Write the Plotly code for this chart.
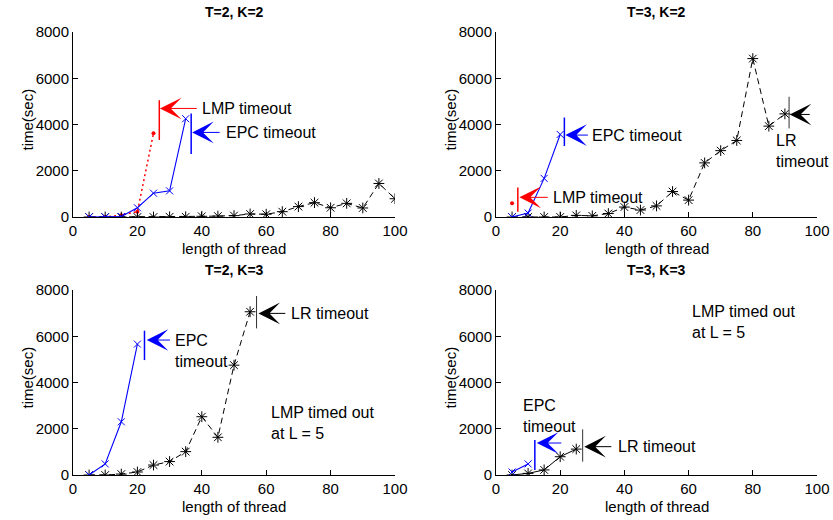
import plotly.graph_objects as go

# ---------------- data ----------------
L_all = [5, 10, 15, 20, 25, 30, 35, 40, 45, 50, 55, 60, 65, 70, 75, 80, 85, 90, 95, 100]

# T=2, K=2
t22_lr = [0, 0, 0, 0, 0, 10, 10, 30, 40, 60, 130, 120, 230, 450, 620, 400, 590, 390, 1450, 790]
t22_epc = [0, 0, 20, 400, 1030, 1130, 4250]
t22_lmp = [0, 0, 80, 230, 3620]

# T=3, K=2
t32_lr = [0, 0, 0, 0, 70, 50, 150, 430, 300, 480, 1100, 730, 2340, 2870, 3310, 6850, 3930, 4460]
t32_epc = [0, 170, 1670, 3570]
t32_lmp = [600]

# T=2, K=3
t23_lr = [0, 0, 40, 130, 430, 580, 1010, 2520, 1630, 4750, 7060]
t23_epc = [0, 480, 2300, 5660]

# T=3, K=3
t33_lr = [0, 70, 220, 790, 1120]
t33_epc = [130, 480]

titles = ["T=2, K=2", "T=3, K=2", "T=2, K=3", "T=3, K=3"]
x_ticks = [0, 20, 40, 60, 80, 100]
y_ticks = [0, 2000, 4000, 6000, 8000]

# ---------------- layout geometry ----------------
W, H = 833, 520
FONT = "Liberation Sans, Arial, sans-serif"
FS = 15
cols = [(73, 395), (496, 817)]
rows = [(32, 217), (290, 475)]

def px(x):
    return x / W

def py(y):
    return 1 - y / H

BLUE = "#0000ff"
RED = "#ff0000"
BLACK = "#000000"

fig = go.Figure()

panels = [
    ("", 0, 0),
    ("2", 1, 0),
    ("3", 0, 1),
    ("4", 1, 1),
]

def add_lr(sfx, y, dash):
    fig.add_trace(go.Scatter(
        x=L_all[:len(y)], y=y, mode="lines+markers",
        xaxis="x" + sfx, yaxis="y" + sfx,
        line=dict(color=BLACK, width=1, dash=dash),
        marker=dict(symbol="asterisk-open", size=9, color=BLACK, line=dict(color=BLACK, width=1)),
        showlegend=False, hoverinfo="x+y"))

def add_epc(sfx, y):
    fig.add_trace(go.Scatter(
        x=L_all[:len(y)], y=y, mode="lines+markers",
        xaxis="x" + sfx, yaxis="y" + sfx,
        line=dict(color=BLUE, width=1.1),
        marker=dict(symbol="x-thin-open", size=7, color=BLUE, line=dict(color=BLUE, width=1)),
        showlegend=False, hoverinfo="x+y"))

def add_lmp(sfx, y):
    fig.add_trace(go.Scatter(
        x=L_all[:len(y)], y=y, mode="lines+markers",
        xaxis="x" + sfx, yaxis="y" + sfx,
        line=dict(color=RED, width=1.5, dash="2px,3px"),
        marker=dict(symbol="circle", size=4, color=RED),
        showlegend=False, hoverinfo="x+y"))

dashed = "6px,4px"
add_lmp("", t22_lmp)
add_lr("", t22_lr, dashed)
add_epc("", t22_epc)

add_lmp("2", t32_lmp)
add_lr("2", t32_lr, dashed)
add_epc("2", t32_epc)

add_lr("3", t23_lr, dashed)
add_epc("3", t23_epc)

add_lr("4", t33_lr, "solid")
add_epc("4", t33_epc)

layout = dict(
    width=W, height=H,
    margin=dict(l=0, r=0, t=0, b=0),
    paper_bgcolor="white", plot_bgcolor="white",
    font=dict(family=FONT, size=FS, color="black"),
    showlegend=False,
)

annotations = []
shapes = []

for (sfx, c, r), title in zip(panels, titles):
    x0, x1 = cols[c]
    y0, y1 = rows[r]
    common = dict(showline=True, linecolor="black", linewidth=1, mirror=False,
                  ticks="inside", ticklen=5, tickcolor="black", showgrid=False,
                  zeroline=False, automargin=False,
                  tickfont=dict(family=FONT, size=FS, color="black"))
    layout["xaxis" + sfx] = dict(domain=[px(x0), px(x1)], range=[0, 100], tickvals=x_ticks,
                                 anchor="y" + sfx, **common)
    layout["yaxis" + sfx] = dict(domain=[py(y1), py(y0)], range=[0, 8000], tickvals=y_ticks,
                                 anchor="x" + sfx, **common)
    cx = (x0 + x1) / 2
    annotations.append(dict(text="<b>" + title + "</b>", x=px(cx), y=py(y0 - 20),
                            xref="paper", yref="paper", showarrow=False,
                            xanchor="center", yanchor="middle",
                            font=dict(family=FONT, size=14)))
    annotations.append(dict(text="length of thread", x=px(cx), y=py(y1 + 31),
                            xref="paper", yref="paper", showarrow=False,
                            xanchor="center", yanchor="middle",
                            font=dict(family=FONT, size=FS)))
    annotations.append(dict(text="time(sec)", x=px(x0 - 46), y=py((y0 + y1) / 2 - 5),
                            xref="paper", yref="paper", showarrow=False, textangle=-90,
                            xanchor="center", yanchor="middle",
                            font=dict(family=FONT, size=FS)))

# timeout markers: (axis suffix, color, bar x, bar y0, bar y1, arrow head x, arrow tail x, arrow y, bar width)
markers = [
    ("", RED, 26.8, 3330, 5050, 27.0, 38.9, 4694, 1.5),
    ("", BLUE, 36.7, 2720, 4480, 37.0, 46.0, 3658, 1.5),
    ("2", RED, 6.8, 230, 1280, 7.3, 16.6, 850, 1.5),
    ("2", BLUE, 21.3, 3070, 4300, 21.6, 29.1, 3542, 1.5),
    ("2", BLACK, 91.3, 3830, 5200, 91.5, 98.2, 4435, 1),
    ("3", BLUE, 22.2, 4970, 6240, 22.9, 30.6, 5836, 1.5),
    ("3", BLACK, 57.0, 6340, 7740, 57.6, 66.4, 6989, 1),
    ("4", BLUE, 12.1, 216, 1513, 12.7, 20.8, 1383, 1.5),
    ("4", BLACK, 27.0, 576, 1974, 27.5, 36.4, 1225, 1),
]
for sfx, col, bx, by0, by1, hx, tx, ay, bw in markers:
    shapes.append(dict(type="line", xref="x" + sfx, yref="y" + sfx, x0=bx, x1=bx, y0=by0, y1=by1,
                       line=dict(color=col if col != BLACK else "#333333", width=bw)))
    annotations.append(dict(text="", x=hx, y=ay, ax=tx, ay=ay, xref="x" + sfx, yref="y" + sfx,
                            axref="x" + sfx, ayref="y" + sfx, showarrow=True,
                            arrowhead=3, arrowsize=3.6, arrowwidth=1, arrowcolor=col))

# text labels: (axis suffix, text, x, y)
labels = [
    ("", "LMP timeout", 39.4, 4700),
    ("", "EPC timeout", 46.9, 3650),
    ("2", "LMP timeout", 17.2, 852),
    ("2", "EPC timeout", 29.4, 3546),
    ("2", "LR<br>timeout", 86.5, 2860),
    ("3", "EPC<br>timeout", 31.2, 5368),
    ("3", "LR timeout", 67.1, 6991),
    ("3", "LMP timed out<br>at L = 5", 61.0, 2270),
    ("4", "EPC<br>timeout", 7.8, 2557),
    ("4", "LR timeout", 37.4, 1225),
    ("4", "LMP timed out<br>at L = 5", 60.3, 6595),
]
for sfx, txt, x, y in labels:
    annotations.append(dict(text=txt, x=x, y=y, xref="x" + sfx, yref="y" + sfx,
                            showarrow=False, xanchor="left", yanchor="middle", align="left",
                            font=dict(family=FONT, size=16, color="black")))

layout["annotations"] = annotations
layout["shapes"] = shapes
fig.update_layout(**layout)

fig.write_html("out.html", config={"displayModeBar": False},
               post_script="document.body.style.margin='0px';document.body.style.overflow='hidden';")
